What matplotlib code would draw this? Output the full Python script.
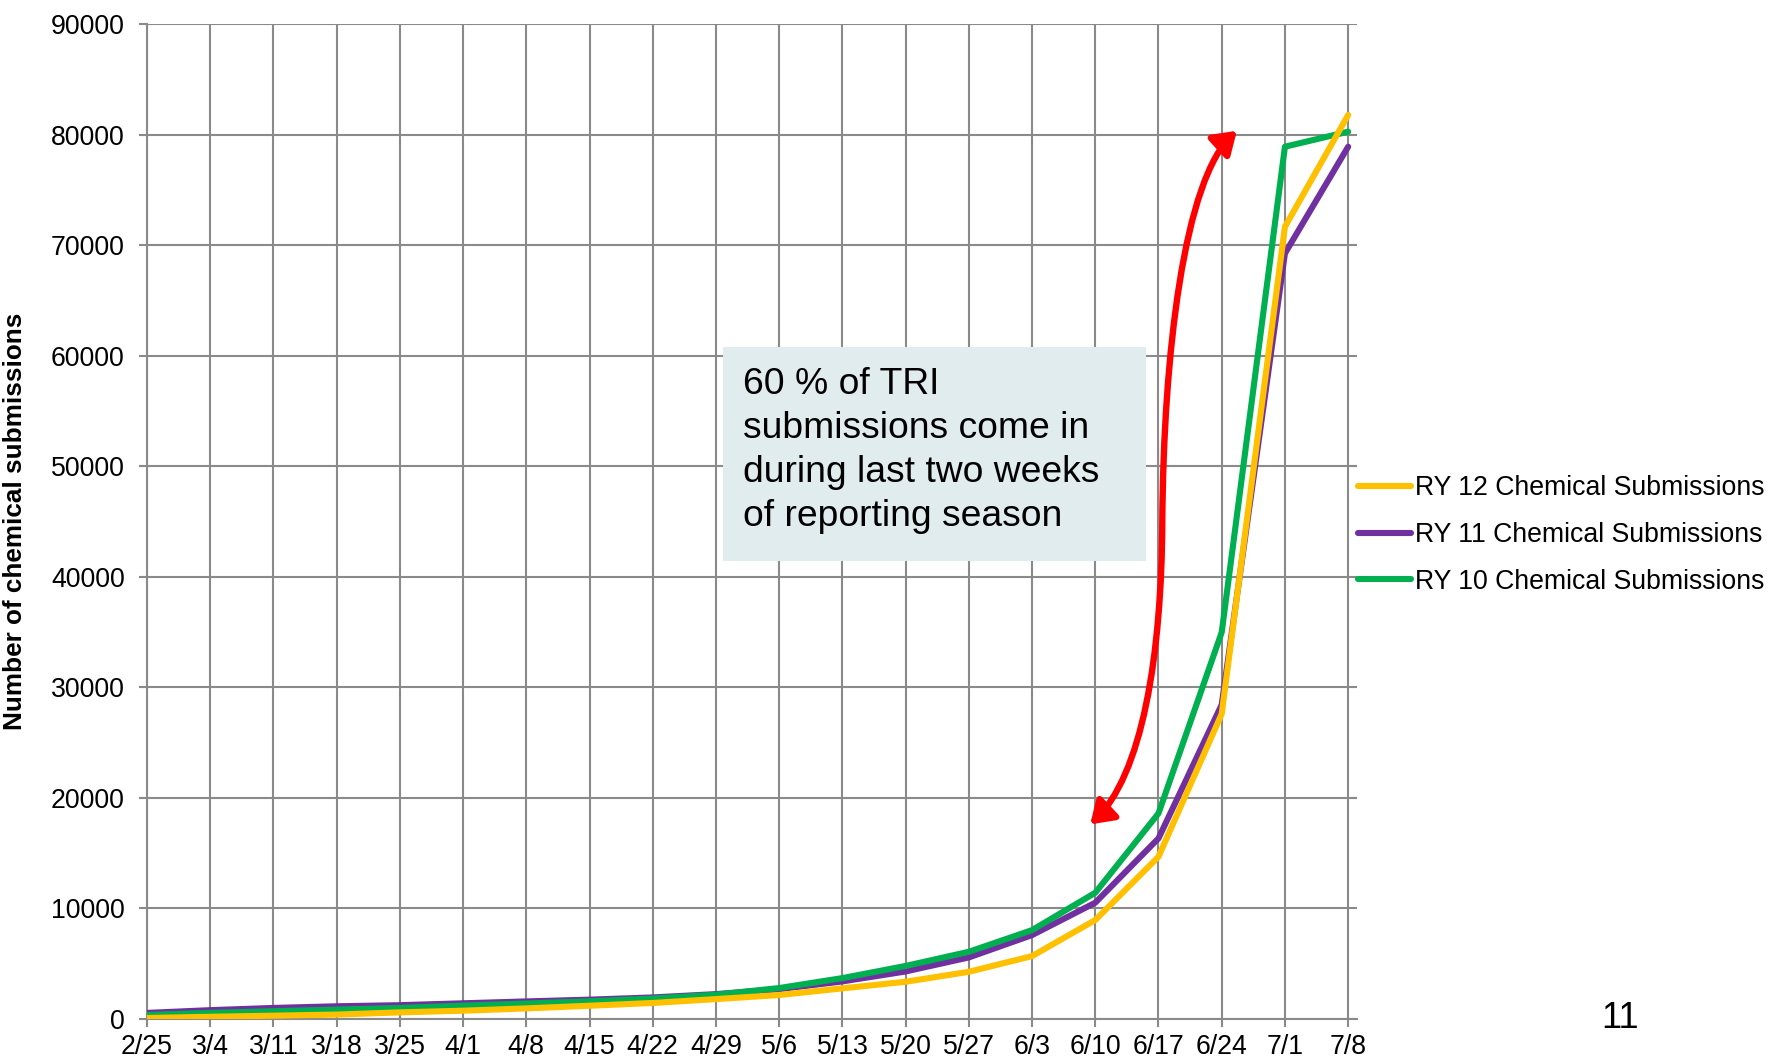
import matplotlib
matplotlib.use('Agg')
import matplotlib.pyplot as plt
from matplotlib.patches import FancyArrowPatch, Rectangle
from matplotlib.path import Path

plt.rcParams['font.family'] = ['Liberation Sans', 'DejaVu Sans']
plt.rcParams['lines.solid_capstyle'] = 'round'

# weekly dates of the reporting season
dates = ['2/25', '3/4', '3/11', '3/18', '3/25', '4/1', '4/8', '4/15', '4/22', '4/29',
         '5/6', '5/13', '5/20', '5/27', '6/3', '6/10', '6/17', '6/24', '7/1', '7/8']

ry12 = [90, 200, 300, 400, 600, 750, 960, 1200, 1450, 1800,
        2170, 2770, 3370, 4270, 5690, 8950, 14680, 27600, 71660, 81770]
ry11 = [550, 800, 1000, 1150, 1250, 1420, 1590, 1750, 1950, 2250,
        2700, 3400, 4300, 5570, 7590, 10520, 16340, 28430, 69250, 78900]
ry10 = [360, 550, 700, 850, 1000, 1210, 1400, 1600, 1850, 2200,
        2800, 3700, 4800, 6080, 8040, 11420, 18600, 34980, 78900, 80260]

yticks = [0, 10000, 20000, 30000, 40000, 50000, 60000, 70000, 80000, 90000]

note = '60 % of TRI\nsubmissions come in\nduring last two weeks\nof reporting season'

# red double arrow (bezier: start, ctrl, ctrl, mid, ctrl, ctrl, end) in (week index, value)
arrow_pts = [(14.92, 17600), (15.75, 22000), (16.05, 33000), (16.06, 45000),
             (16.08, 60000), (16.40, 76000), (17.24, 80340)]

grid_col = '#8a8a8a'
fs = 19.2
x = list(range(len(dates)))

fig = plt.figure(figsize=(17.74, 10.60), dpi=100)
ax = fig.add_axes([147/1774, 1 - 1019/1060, 1210/1774, 995/1060])

l11, = ax.plot(x, ry11, color='#7030A0', lw=4.4, zorder=4, label='RY 11 Chemical Submissions')
l10, = ax.plot(x, ry10, color='#00B050', lw=4.4, zorder=4, label='RY 10 Chemical Submissions')
l12, = ax.plot(x, ry12, color='#FFC000', lw=4.4, zorder=4, label='RY 12 Chemical Submissions')

ax.set_xlim(0, 19.14)
ax.set_ylim(0, 90000)
ax.set_xticks(x)
ax.set_xticklabels(dates)
ax.set_yticks(yticks)
ax.set_yticklabels([str(v) for v in yticks])

ax.grid(True, color=grid_col, lw=1.5)
ax.set_axisbelow(True)
for s in ['top', 'right']:
    ax.spines[s].set_visible(False)
for s in ['left', 'bottom']:
    ax.spines[s].set_color(grid_col)
    ax.spines[s].set_linewidth(1.5)
ax.tick_params(axis='both', colors=grid_col, length=6, width=1.5, labelcolor='black', labelsize=fs)
ax.tick_params(axis='y', pad=10)
ax.tick_params(axis='x', pad=4.5)

ax.set_ylabel('Number of chemical submissions', fontsize=18.8, fontweight='bold')
ax.yaxis.set_label_coords(-0.099, 0.5)

# annotation box
ax.add_patch(Rectangle((9.11, 41425), 15.81 - 9.11, 60780 - 41425,
                       facecolor='#e1ecee', edgecolor='none', zorder=3))
ax.text(9.43, 51400, note, fontsize=26.8, va='center', ha='left', zorder=6, linespacing=1.33)

codes = [Path.MOVETO] + [Path.CURVE4] * 6
arr = FancyArrowPatch(path=Path(arrow_pts, codes), arrowstyle='<|-|>,head_length=0.6,head_width=0.4',
                      mutation_scale=22, color='#FF0000', lw=4.6, shrinkA=0, shrinkB=0, zorder=5)
ax.add_patch(arr)

fig.legend(handles=[l12, l11, l10], loc='center left', bbox_to_anchor=(1358/1774, 1 - 535/1060),
           frameon=False, fontsize=fs, handlelength=2.0, handletextpad=0.15,
           labelspacing=0.78, borderpad=0, borderaxespad=0)

fig.text(1620/1774, 1 - 1018/1060, '11', fontsize=26, ha='center', va='center')

fig.savefig('out.png', dpi=100)
